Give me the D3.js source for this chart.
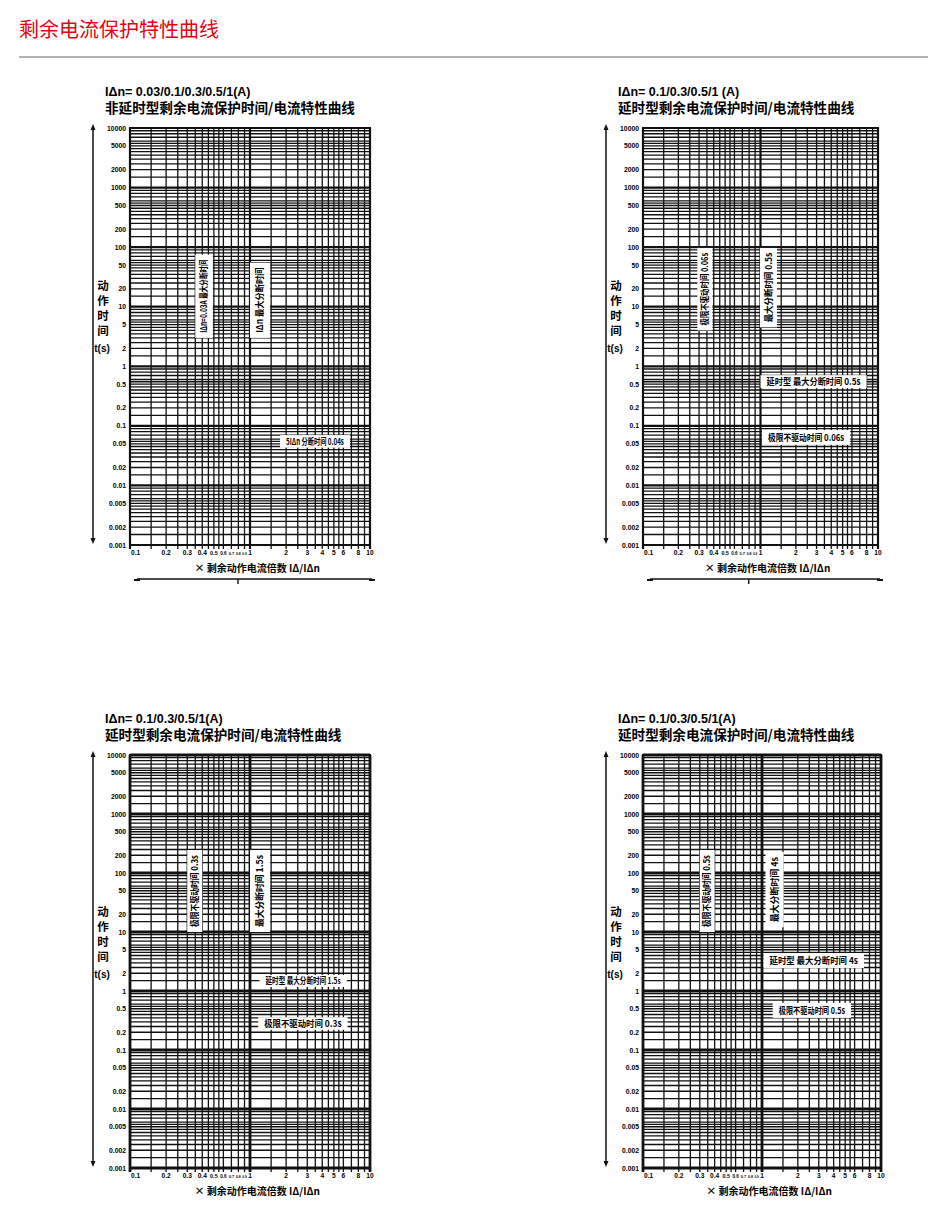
<!DOCTYPE html>
<html>
<head>
<meta charset="utf-8">
<script src="https://cdn.jsdelivr.net/npm/d3@7"></script>
<style>
  body { margin: 0; background: #fff; }
  svg { display: block; font-family: "Noto Sans CJK SC", "Noto Sans", sans-serif; }
</style>
</head>
<body>
<svg id="page" width="940" height="1228"></svg>
<script>
// ---- data ----
const pageTitle = "剩余电流保护特性曲线";
const xDomain = [0.1, 10];
const yDomain = [0.001, 10000];
const gridMultiples = [1, 1.5, 2, 2.5, 3, 3.5, 4, 4.5, 5, 5.5, 6, 7, 8, 9];
const xTickValues = [0.1, 0.2, 0.3, 0.4, 0.5, 0.6, 0.7, 0.8, 0.9, 1, 2, 3, 4, 5, 6, 8, 10];
const yTickValues = [10000, 5000, 2000, 1000, 500, 200, 100, 50, 20, 10, 5, 2, 1,
    0.5, 0.2, 0.1, 0.05, 0.02, 0.01, 0.005, 0.002, 0.001];
const ratingLines = ["IΔn= 0.03/0.1/0.3/0.5/1(A)", "IΔn= 0.1/0.3/0.5/1 (A)",
    "IΔn= 0.1/0.3/0.5/1(A)", "IΔn= 0.1/0.3/0.5/1(A)"];
const curveTitles = ["非延时型剩余电流保护时间/电流特性曲线", "延时型剩余电流保护时间/电流特性曲线",
    "延时型剩余电流保护时间/电流特性曲线", "延时型剩余电流保护时间/电流特性曲线"];
const yAxisChars = ["动", "作", "时", "间"];
const yAxisUnit = "t(s)";
const xAxisTitle = "× 剩余动作电流倍数 IΔ/IΔn";

// zones: [x from, x to, t from, t to, label, vertical?]
const zonesA = [
    [0.35, 0.49, 3, 75, "IΔn=0.03A 最大分断时间", true],
    [1.0, 1.47, 3, 55, "IΔn 最大分断时间", true],
    [1.78, 6.8, 0.043, 0.07, "5IΔn 分断时间 0.04s", false]
];
const zonesB = [
    [0.29, 0.39, 4, 97, "极限不驱动时间 0.06s", true],
    [0.99, 1.38, 4.5, 97, "最大分断时间 0.5s", true],
    [1.0, 8.0, 0.43, 0.71, "延时型 最大分断时间 0.5s", false],
    [1.03, 5.8, 0.048, 0.085, "极限不驱动时间 0.06s", false]
];
const zonesC = [
    [0.3, 0.4, 10, 245, "极限不驱动时间 0.3s", true],
    [1.0, 1.47, 10, 245, "最大分断时间 1.5s", true],
    [1.2, 6.4, 1.17, 1.87, "延时型 最大分断时间 1.5s", false],
    [1.17, 6.5, 0.22, 0.36, "极限不驱动时间 0.3s", false]
];
const zonesD = [
    [0.3, 0.4, 10, 245, "极限不驱动时间 0.5s", true],
    [1.07, 1.52, 12, 227, "最大分断时间 4s", true],
    [1.03, 7.2, 2.45, 4.4, "延时型 最大分断时间 4s", false],
    [1.23, 5.6, 0.35, 0.63, "极限不驱动时间 0.5s", false]
];

// ---- layout ----
const panels = [
    { left: 130, right: 370, top: 128, bottom: 545, zones: zonesA, heavy: 2.2, baseLine: true },
    { left: 643, right: 878, top: 128, bottom: 545, zones: zonesB, heavy: 2.2, baseLine: true },
    { left: 130, right: 370, top: 755, bottom: 1168, zones: zonesC, heavy: 2.8, baseLine: false },
    { left: 643, right: 881, top: 755, bottom: 1168, zones: zonesD, heavy: 2.8, baseLine: false }
];

const latin = "Liberation Sans, Arial, sans-serif";
const svg = d3.select("#page");

svg.append("text")
    .attr("x", 19).attr("y", 37)
    .attr("font-size", 20)
    .attr("fill", "#e60012")
    .text(pageTitle);

svg.append("line")
    .attr("x1", 19).attr("x2", 928)
    .attr("y1", 57).attr("y2", 57)
    .attr("stroke", "#9a9a9a").attr("stroke-width", 1.5);

function logGrid(domain) {
    let values = [];
    for (let e = Math.log10(domain[0]); e < Math.log10(domain[1]) - 0.001; e++) {
        gridMultiples.forEach(function (m) {
            values.push({ v: m * Math.pow(10, e), decade: m === 1 });
        });
    }
    values.push({ v: domain[1], decade: true });
    return values;
}

function drawPanel(p, i) {
    const g = svg.append("g");
    const x = d3.scaleLog().domain(xDomain).range([p.left, p.right]);
    const y = d3.scaleLog().domain(yDomain).range([p.bottom, p.top]);
    const h = p.bottom - p.top;
    const w = p.right - p.left;

    // header
    g.append("text")
        .attr("x", p.left - 25).attr("y", p.top - 32)
        .attr("font-size", 12.5).attr("font-weight", "bold")
        .attr("font-family", latin)
        .text(ratingLines[i]);
    g.append("text")
        .attr("x", p.left - 25).attr("y", p.top - 15)
        .attr("font-size", 13.6).attr("font-weight", "bold")
        .text(curveTitles[i]);

    // grid
    const grid = g.append("g").attr("stroke", "#111");
    grid.selectAll("line.h")
        .data(logGrid(yDomain))
        .join("line")
        .attr("x1", p.left).attr("x2", p.right)
        .attr("y1", d => y(d.v)).attr("y2", d => y(d.v))
        .attr("stroke-width", d => d.decade ? p.heavy : 1.3);
    grid.selectAll("line.v")
        .data(logGrid(xDomain))
        .join("line")
        .attr("x1", d => x(d.v)).attr("x2", d => x(d.v))
        .attr("y1", p.top).attr("y2", p.bottom + 4)
        .attr("stroke-width", d => d.decade ? p.heavy : 1.3);
    g.append("rect")
        .attr("x", p.left).attr("y", p.top)
        .attr("width", w).attr("height", h)
        .attr("fill", "none").attr("stroke", "#111").attr("stroke-width", 2);

    // y ticks
    g.append("g")
        .selectAll("text")
        .data(yTickValues)
        .join("text")
        .attr("x", p.left - 4)
        .attr("y", d => y(d) + 2.5)
        .attr("text-anchor", "end")
        .attr("font-size", 6.8).attr("font-weight", "bold")
        .attr("font-family", latin)
        .text(d => d);

    // x ticks; crowded ones get a smaller font so they fit their room
    const xs = xTickValues.map(v => x(v));
    const baseSize = 6.6;
    g.append("g")
        .selectAll("text")
        .data(xTickValues)
        .join("text")
        .attr("x", (d, k) => k === 0 ? xs[k] + 1 : xs[k])
        .attr("y", p.bottom + 10)
        .attr("text-anchor", (d, k) => k === 0 ? "start" : "middle")
        .attr("font-size", baseSize).attr("font-weight", "bold")
        .attr("font-family", latin)
        .text(d => d)
        .each(function (d, k) {
            const prev = k > 0 ? xs[k] - xs[k - 1] : 99;
            const next = k < xs.length - 1 ? xs[k + 1] - xs[k] : 99;
            const room = Math.min(prev, next) * 0.8;
            const len = this.getComputedTextLength();
            if (k > 0 && len > room) {
                d3.select(this).attr("font-size", baseSize * room / len);
            }
        });

    // zone labels
    p.zones.forEach(function (z) {
        const x0 = x(z[0]), x1 = x(z[1]);
        const y0 = y(z[3]), y1 = y(z[2]);
        const bw = x1 - x0, bh = y1 - y0;
        g.append("rect")
            .attr("x", x0).attr("y", y0)
            .attr("width", bw).attr("height", bh)
            .attr("fill", "#fff");
        if (z[5]) {
            const cx = x0 + bw / 2, cy = y0 + bh / 2;
            g.append("text")
                .attr("transform", "translate(" + (cx + 3.2) + "," + cy + ") rotate(-90)")
                .attr("text-anchor", "middle")
                .attr("font-size", Math.min(9.5, bw * 0.65)).attr("font-weight", "bold")
                .attr("textLength", bh - 10)
                .attr("lengthAdjust", "spacingAndGlyphs")
                .text(z[4]);
        } else {
            g.append("text")
                .attr("x", x0 + 6).attr("y", y0 + bh / 2 + 3.2)
                .attr("font-size", Math.min(9.5, bh * 0.72)).attr("font-weight", "bold")
                .attr("textLength", bw - 12)
                .attr("lengthAdjust", "spacingAndGlyphs")
                .text(z[4]);
        }
    });

    // y axis arrow
    const ax = p.left - 37;
    g.append("line")
        .attr("x1", ax).attr("x2", ax)
        .attr("y1", p.top).attr("y2", p.bottom - 4)
        .attr("stroke", "#111").attr("stroke-width", 1.5);
    g.append("path")
        .attr("d", "M" + ax + "," + (p.top - 4) + "l-2.5,6h5z")
        .attr("fill", "#111");
    g.append("path")
        .attr("d", "M" + ax + "," + (p.bottom - 1) + "l-2.5,-6h5z")
        .attr("fill", "#111");

    // y axis title, stacked
    g.append("g")
        .selectAll("text")
        .data(yAxisChars)
        .join("text")
        .attr("x", p.left - 27)
        .attr("y", (d, k) => p.top + h * 0.38 + 4 + k * 15)
        .attr("text-anchor", "middle")
        .attr("font-size", 11.5).attr("font-weight", "bold")
        .text(d => d);
    g.append("text")
        .attr("x", p.left - 28)
        .attr("y", p.top + h * 0.38 + 66)
        .attr("text-anchor", "middle")
        .attr("font-size", 10).attr("font-weight", "bold")
        .attr("font-family", latin)
        .text(yAxisUnit);

    // x axis title
    g.append("text")
        .attr("x", p.left + w * 0.53)
        .attr("y", p.bottom + 27)
        .attr("text-anchor", "middle")
        .attr("font-size", 10).attr("font-weight", "bold")
        .text(xAxisTitle);

    if (p.baseLine) {
        const by = p.bottom + 34;
        g.append("line")
            .attr("x1", p.left + 7).attr("x2", p.right + 2)
            .attr("y1", by).attr("y2", by)
            .attr("stroke", "#111").attr("stroke-width", 1.4);
        g.append("line")
            .attr("x1", p.left + w * 0.45).attr("x2", p.left + w * 0.45)
            .attr("y1", by).attr("y2", by + 5)
            .attr("stroke", "#111").attr("stroke-width", 1.4);
        [p.left + 7, p.right + 2].forEach(function (ex) {
            g.append("line")
                .attr("x1", ex - 3).attr("x2", ex + 3)
                .attr("y1", by + 1).attr("y2", by + 1)
                .attr("stroke", "#111").attr("stroke-width", 2);
        });
    }
}

panels.forEach(drawPanel);
</script>
</body>
</html>
